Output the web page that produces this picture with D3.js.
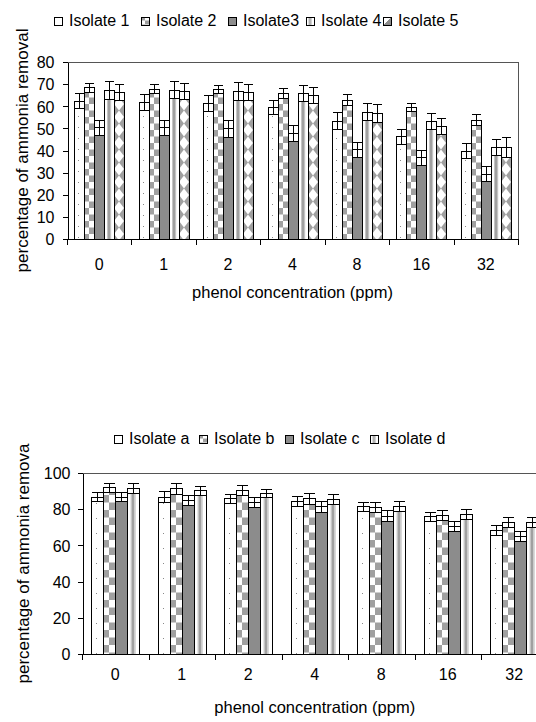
<!DOCTYPE html>
<html><head><meta charset="utf-8">
<script src="https://cdn.jsdelivr.net/npm/d3@7"></script>
<style>
body{margin:0;background:#fff}
svg{display:block}
text{font-family:"Liberation Sans",Arial,sans-serif;fill:#000}
</style>
</head><body>
<svg id="c" width="536" height="722"></svg>
<script>
// ---------- DATA ----------
const categories = ["0","1","2","4","8","16","32"];

const seriesTop = ["Isolate 1","Isolate 2","Isolate3","Isolate 4","Isolate 5"];
const isolate1 = [62.5,62,61.5,59.5,53.5,46.5,40];
const isolate2 = [68.5,68,68,66,63,59.5,54];
const isolate3 = [50.5,50.5,50,48,40.5,37,29.5];
const isolate4 = [67.5,67.5,67,66,57.5,53.5,41.5];
const isolate5 = [66.5,67,66.5,65,57,51,41.5];
const err1 = [3.3,3.5,3.6,3.2,3.7,3.4,3.5];
const err2 = [2,2,1.8,2.4,2.5,1.8,2.4];
const err3 = [3.5,3.5,3.8,3.5,3.5,3.4,3.4];
const err4 = [4,3.8,4,3.8,3.8,3.6,3.6];
const err5 = [3.6,3.5,3.5,3.5,4,3.6,4.4];
const yTicksTop = [0,10,20,30,40,50,60,70,80];

const seriesBottom = ["Isolate a","Isolate b","Isolate c","Isolate d"];
const isolateA = [87,87,86,84.5,81.5,76,68.5];
const isolateB = [92,91.5,90.5,86,81,77,73];
const isolateC = [87,85,84,81.5,76.5,70.5,65];
const isolateD = [91.5,90.5,89,85.5,82,77.5,73];
const errA = [2.5,2.8,2.6,2.6,2.6,2.6,2.8];
const errB = [2.6,3,2.8,3,2.8,2.8,2.8];
const errC = [2.5,2.6,2.6,2.8,3,2.8,2.8];
const errD = [2.8,2.4,2.4,2.8,2.8,2.8,2.8];
const yTicksBottom = [0,20,40,60,80,100];

const yTitleTop = "percentage of ammonia removal";
const yTitleBottom = "percentage of ammonia remova";
const xTitle = "phenol concentration (ppm)";

// ---------- PATTERNS ----------
const svg = d3.select("#c");
const defs = svg.append("defs");
const G1 = "#8c8c8c", G2 = "#a0a0a0", G3 = "#c4c4c4";

function makePatterns(pre, w, dotP, chH, diaH){
  let p = defs.append("pattern").attr("id",pre+"dots").attr("patternUnits","userSpaceOnUse").attr("width",w).attr("height",dotP);
  p.append("rect").attr("width",w).attr("height",dotP).attr("fill","#fff");
  p.append("rect").attr("x",Math.round(w*0.38)).attr("y",Math.round(dotP/2)).attr("width",1).attr("height",1).attr("fill","#888");

  p = defs.append("pattern").attr("id",pre+"check").attr("patternUnits","userSpaceOnUse").attr("width",w).attr("height",chH*2);
  p.append("rect").attr("width",w).attr("height",chH*2).attr("fill","#fff");
  p.append("rect").attr("x",0).attr("y",0).attr("width",w/2).attr("height",chH).attr("fill",G2);
  p.append("rect").attr("x",w/2).attr("y",chH).attr("width",w/2).attr("height",chH).attr("fill",G2);

  p = defs.append("pattern").attr("id",pre+"stripe").attr("patternUnits","userSpaceOnUse").attr("width",w).attr("height",4);
  p.append("rect").attr("width",w).attr("height",4).attr("fill","#fff");
  const s = w/10;
  p.append("rect").attr("x",3*s).attr("width",1*s).attr("height",4).attr("fill",G3);
  p.append("rect").attr("x",4*s).attr("width",2*s).attr("height",4).attr("fill",G2);
  p.append("rect").attr("x",6*s).attr("width",1.2*s).attr("height",4).attr("fill",G3);

  p = defs.append("pattern").attr("id",pre+"dia").attr("patternUnits","userSpaceOnUse").attr("width",w).attr("height",diaH);
  p.append("rect").attr("width",w).attr("height",diaH).attr("fill","#fff");
  p.append("polygon").attr("points",`0,0 ${w/2},${diaH/2} 0,${diaH}`).attr("fill",G2);
  p.append("polygon").attr("points",`${w},0 ${w/2},${diaH/2} ${w},${diaH}`).attr("fill",G2);
}
makePatterns("t",10,11,6.5,13);
makePatterns("b",12,15,7.5,15);
makePatterns("l",8,6,4,8);

const lg = defs.append("linearGradient").attr("id","lgrad").attr("x1",0).attr("y1",0).attr("x2",1).attr("y2",1);
lg.append("stop").attr("offset","0%").attr("stop-color","#fff");
lg.append("stop").attr("offset","50%").attr("stop-color","#fff");
lg.append("stop").attr("offset","51%").attr("stop-color",G1);
lg.append("stop").attr("offset","100%").attr("stop-color",G1);

// ---------- CHART ----------
function drawChart(cfg){
  const g = svg.append("g");
  const x = d3.scaleBand().domain(categories).range([cfg.left,cfg.right]);
  const y = d3.scaleLinear().domain([0,cfg.yMax]).range([cfg.bottom,cfg.top]);
  const inner = d3.scaleBand().domain(cfg.series).range([0,cfg.barW*cfg.series.length]);
  const off = (x.bandwidth() - cfg.barW*cfg.series.length)/2;

  // plot border (top/right)
  g.append("path").attr("d",`M${cfg.left},${cfg.top+0.5}H${cfg.right+0.5}V${cfg.bottom}`)
    .attr("fill","none").attr("stroke","#555").attr("stroke-width",1).attr("shape-rendering","crispEdges");

  // bars
  cfg.series.forEach((s,si)=>{
    const vals = cfg.values[si], errs = cfg.errs[si];
    categories.forEach((c,ci)=>{
      const v = vals[ci], e = errs[ci];
      const bx = Math.round(x(c) + off + inner(s));
      const w = cfg.barW;
      const bg = g.append("g").attr("transform",`translate(${bx},0)`).attr("shape-rendering","crispEdges");
      const yt = Math.round(y(v)), yb = Math.round(y(0));
      bg.append("rect").attr("x",0).attr("y",yt).attr("width",w).attr("height",yb-yt).attr("fill",cfg.fills[si]);
      const ylo = Math.round(y(v-e)), yhi = Math.round(y(v+e));
      bg.append("rect").attr("x",0).attr("y",yt).attr("width",w).attr("height",ylo-yt).attr("fill","#fff");
      bg.append("rect").attr("x",0.5).attr("y",yt+0.5).attr("width",w).attr("height",yb-yt).attr("fill","none").attr("stroke","#000");
      bg.append("line").attr("x1",w/2+0.5).attr("x2",w/2+0.5).attr("y1",yhi).attr("y2",ylo).attr("stroke","#000");
      bg.append("line").attr("x1",1).attr("x2",w).attr("y1",yhi+0.5).attr("y2",yhi+0.5).attr("stroke","#000");
      bg.append("line").attr("x1",1).attr("x2",w).attr("y1",ylo+0.5).attr("y2",ylo+0.5).attr("stroke","#000");
    });
  });

  // y axis
  const ya = g.append("g").attr("transform",`translate(${cfg.left+0.5},0)`)
    .call(d3.axisLeft(y).tickValues(cfg.yTicks).tickSize(5).tickSizeOuter(0).tickPadding(cfg.yPad));
  ya.selectAll("text").attr("font-size",16).attr("font-family","Liberation Sans, Arial, sans-serif").attr("dy","0.36em");
  ya.selectAll("line,path").attr("stroke","#000").attr("shape-rendering","crispEdges");

  // x axis
  const xa = g.append("g").attr("transform",`translate(0,${cfg.bottom+0.5})`)
    .call(d3.axisBottom(x).tickSize(0).tickPadding(cfg.xPad));
  xa.selectAll("text").attr("font-size",16).attr("font-family","Liberation Sans, Arial, sans-serif");
  xa.select("path").attr("stroke","#000").attr("shape-rendering","crispEdges")
    .attr("d",`M${cfg.left},0H${cfg.right+0.5}`);
  const bounds = categories.map(c=>x(c)).concat([cfg.right]);
  xa.selectAll(".btick").data(bounds).enter().append("line").attr("class","btick")
    .attr("x1",d=>Math.round(d)+0.5).attr("x2",d=>Math.round(d)+0.5).attr("y1",0).attr("y2",5)
    .attr("stroke","#000").attr("shape-rendering","crispEdges");

  // titles
  g.append("text").attr("x",(cfg.left+cfg.right)/2).attr("y",cfg.xTitleY).attr("text-anchor","middle")
    .attr("font-size",16.5).text(xTitle);
  g.append("text").attr("transform",`translate(${cfg.yTitleX},${(cfg.top+cfg.bottom)/2}) rotate(-90)`)
    .attr("text-anchor","middle").attr("font-size",17).text(cfg.yTitle);

  // legend
  cfg.series.forEach((s,si)=>{
    const lx = cfg.legendX[si];
    const lgG = g.append("g").attr("transform",`translate(${lx},${cfg.legendY-4})`).attr("shape-rendering","crispEdges");
    lgG.append("rect").attr("x",0.5).attr("y",0.5).attr("width",8).attr("height",8)
      .attr("fill",cfg.legendFills[si]).attr("stroke","#000");
    g.append("text").attr("x",lx+15).attr("y",cfg.legendY+5.7).attr("font-size",16).text(s);
  });
}

drawChart({
  left:67, right:518, top:62, bottom:239, yMax:80, yTicks:yTicksTop, yPad:8, xPad:19,
  series:seriesTop, values:[isolate1,isolate2,isolate3,isolate4,isolate5],
  errs:[err1,err2,err3,err4,err5], barW:10,
  fills:["url(#tdots)","url(#tcheck)",G1,"url(#tstripe)","url(#tdia)"],
  legendFills:["#fff","url(#lcheck)",G1,"url(#lstripe)","url(#lgrad)"],
  legendX:[54,141,228,306,383], legendY:20.5,
  xTitleY:297.5, yTitleX:28, yTitle:yTitleTop
});

drawChart({
  left:82, right:547.5, top:473, bottom:654, yMax:100, yTicks:yTicksBottom, yPad:7, xPad:14,
  series:seriesBottom, values:[isolateA,isolateB,isolateC,isolateD],
  errs:[errA,errB,errC,errD], barW:12,
  fills:["url(#bdots)","url(#bcheck)",G1,"url(#bstripe)"],
  legendFills:["#fff","url(#lcheck)",G1,"url(#lstripe)"],
  legendX:[114,199,285,370], legendY:438.5,
  xTitleY:712.5, yTitleX:29, yTitle:yTitleBottom
});
</script>
</body></html>
